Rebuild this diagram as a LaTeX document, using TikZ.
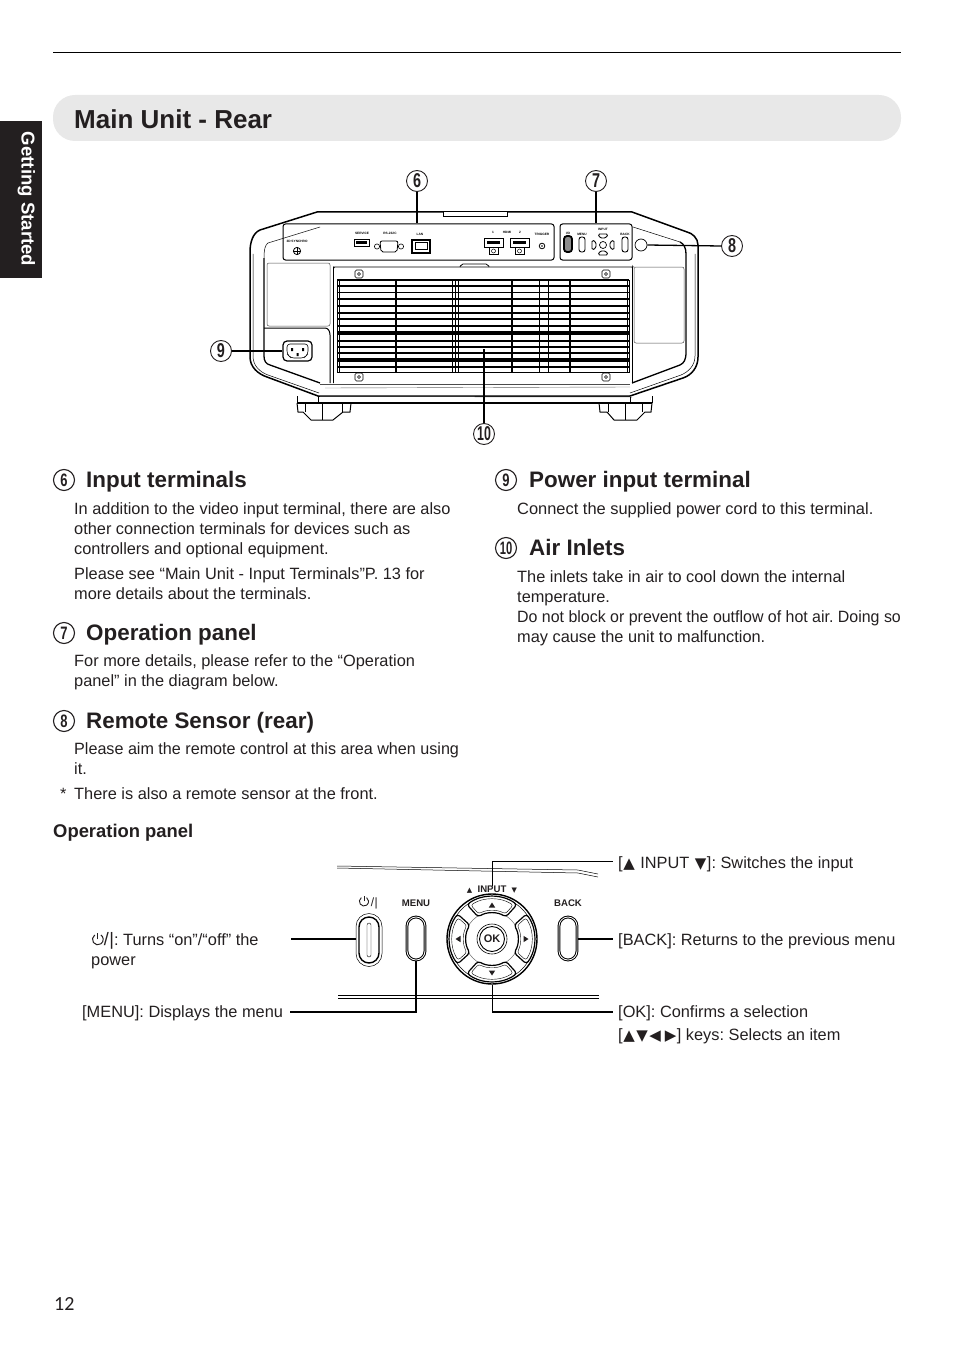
\documentclass[tikz,border=0pt]{standalone}
\usepackage{fontspec}
\setmainfont{Liberation Sans}
\newfontfamily\symfont{DejaVu Sans}
\newfontfamily\pagefont{Carlito}
\frenchspacing

\definecolor{inkblack}{HTML}{231F20}
\definecolor{barfill}{HTML}{E8E8E8}

\newcommand{\narrownum}[1]{\scalebox{.72}[1]{#1}}
\newcommand{\keytri}[1]{{\symfont\fontsize{15}{15}\selectfont #1}}
\newcommand{\pwrsym}{\tikz[x=1pt,y=1pt,baseline=0pt,line width=1pt]{
\draw (125:5.4) ++(0,5.6) arc[start angle=125,end angle=415,radius=5.4];
\draw (0,5.6) -- (0,12.2);}}

\tikzset{
callout/.style={circle, draw=inkblack, line width=.9pt, inner sep=0pt, minimum size=21pt,
  text=inkblack, font={\fontsize{20}{20}\selectfont\bfseries}},
headnum/.style={circle, draw=inkblack, line width=1.1pt, inner sep=0pt, minimum size=21pt,
  text=inkblack, font={\fontsize{18}{18}\selectfont\bfseries}},
headtext/.style={anchor=base west, inner sep=0pt, text=inkblack,
  font={\fontsize{22.4}{22.4}\selectfont\bfseries}},
bodytext/.style={anchor=base west, inner sep=0pt, align=left, text=inkblack,
  font={\fontsize{16.35}{20}\selectfont}},
labeltext/.style={anchor=base west, inner sep=0pt, align=left, text=inkblack,
  font={\fontsize{16.35}{20}\selectfont}},
leader/.style={draw=black, line width=1.3pt},
tinytext/.style={inner sep=0pt, font={\fontsize{3.2}{3.2}\selectfont\bfseries}},
panelbox/.style={draw=black, line width=1pt, rounded corners=2.5pt, inner sep=0pt},
keytext/.style={inner sep=0pt, text=inkblack, font={\fontsize{9.6}{9.6}\selectfont\bfseries}},
softbtn/.style={draw=black, line width=1pt, rounded corners=9pt, double=white,
  double distance=.8pt, inner sep=0pt, minimum width=18pt, minimum height=43pt},
}

\begin{document}
\begin{tikzpicture}[x=1pt,y=-1pt]

\useasboundingbox (0,0) rectangle (954,1348);

\draw [line width=.8pt, black] (53,52.5) -- (901,52.5);

\node [fill=barfill, rounded corners=22pt, minimum width=848pt, minimum height=46pt, inner sep=0pt] (titlebar) at (477,118) {};
\node [anchor=west, inner sep=0pt, text=inkblack, font={\fontsize{26}{26}\selectfont\bfseries}] (title) at (74,119) {Main Unit - Rear};

\fill [inkblack] (0,121) rectangle (42,278);
\node [rotate=-90, inner sep=0pt, text=white, font={\fontsize{18.6}{18.6}\selectfont\bfseries}] (sidetab) at (26.5,199) {Getting Started};

% projector body
\draw [line width=1.5pt] (443,212) -- (317,212) -- (260,230) .. controls (253,233) and (250,242) .. (250,252) -- (250,357)
  .. controls (250,367) and (258,374) .. (267,377) -- (318,396) -- (630,396) -- (683,378)
  .. controls (692,375) and (698,367) .. (698,357) -- (698,245) .. controls (698,238) and (692,233) .. (687,232) -- (632,212) -- (507,212);
\draw [line width=1.5pt] (443,211.5) -- (507,211.5);
\draw [line width=.7pt] (443,212) -- (443,216) -- (507,216) -- (507,212);
\draw [line width=.5pt] (253,254) -- (253,356) .. controls (253,366) and (260,372) .. (268,375) -- (319,393);
\draw [line width=.5pt] (695,254) -- (695,356) .. controls (695,366) and (688,372) .. (681,375) -- (630,393);
\draw [line width=.5pt] (320,227) -- (268,243) .. controls (265,245) and (264,250) .. (264,258);
\draw [line width=.5pt] (633,227) -- (680,242);
\draw [line width=1.3pt] (680,242) .. controls (684,244) and (686,248) .. (686,254) -- (686,352) .. controls (686,360) and (684,363) .. (680,365) -- (632,383);
\draw [line width=1.3pt] (264,258) -- (264,356) .. controls (264,361) and (266,364) .. (270,365) -- (320,383);
\draw [line width=.6pt, black!70] (320,384) -- (630,384);
\draw [line width=.4pt, black!60] (325,388) -- (630,387);
\draw [line width=.5pt, black!70] (320,396.5) -- (632,397);
\draw [line width=1.6pt] (297,403) -- (652,403);
\draw [line width=.8pt] (318,396) -- (318,403) (630,397) -- (630,403);

% feet
\draw [line width=1pt] (297,396) -- (297,403) (652,396) -- (652,403);
\draw [line width=1pt] (297,403) -- (298,412) -- (303,412) -- (311,420) -- (333,420) -- (343,412) -- (350,412) -- (351,403);
\draw [line width=1pt] (599,403) -- (600,412) -- (607,412) -- (614,420) -- (637,420) -- (645,412) -- (651,412) -- (652,403);
\draw [line width=.4pt] (322,403) -- (322,420) (305,403) -- (305,412) (342,403) -- (342,412) (625,403) -- (625,420) (608,403) -- (608,412) (642,403) -- (642,412);

% rear panels
\node [panelbox, minimum width=271pt, minimum height=36pt] (termpanel) at (418.5,242) {};
\node [panelbox, minimum width=72pt, minimum height=36pt] (oppanel) at (596,242) {};
\node [circle, draw=black, line width=.7pt, minimum size=12pt, inner sep=0pt] (sensor) at (641,245) {};

\node [tinytext] (lsync) at (297,241) {3D SYNCHRO};
\draw [line width=.8pt] (297,251) circle (3.6);
\draw [line width=.7pt] (293.4,251) -- (300.6,251) (297,247.4) -- (297,254.6);
\node [tinytext] (lserv) at (362,233) {SERVICE};
\draw [line width=1pt, fill=white] (354,240) rectangle (369,247);
\fill (356,241.5) rectangle (367,244);
\node [tinytext] (lrs) at (390,233) {RS-232C};
\draw [line width=.8pt, rounded corners=2pt] (380,241) -- (398,241) -- (397,252) -- (381,252) -- cycle;
\draw [line width=.6pt] (377,246.5) circle (2.6) (401,246.5) circle (2.6);
\node [tinytext] (llan) at (420,234) {LAN};
\draw [line width=1.2pt] (412,240) rectangle (430,253);
\draw [line width=1pt] (415,243) rectangle (427,250);
\node [tinytext] (lhdmi) at (507,232) {HDMI};
\node [tinytext] (lone) at (493,232) {1};
\node [tinytext] (ltwo) at (520,232) {2};
\foreach \px in {484,510} {
  \draw [line width=1pt] (\px,239) rectangle ++(19,9);
  \fill (\px+3,241.5) rectangle ++(13,3);
  \draw [line width=.5pt] (\px+5,248) -- (\px+5,254) -- (\px+14,254) -- (\px+14,248);
  \draw [line width=.5pt] (\px+9.5,251) circle (2);
}
\node [tinytext] (ltrig) at (542,234) {TRIGGER};
\draw [line width=.8pt] (542,246) circle (2.8);
\fill (542,246) circle (.9);

\node [tinytext] (lpow) at (568,233) {I/O};
\node [tinytext] (lmenu) at (582,234) {MENU};
\node [tinytext] (linput) at (603,229) {INPUT};
\node [tinytext] (lback) at (625,234) {BACK};
\draw [line width=1.8pt, rounded corners=3pt, fill=black!45] (564,236) rectangle (572,252);
\draw [line width=.9pt, rounded corners=2.5pt] (579,237) rectangle (585,252);
\draw [line width=.9pt, rounded corners=2.5pt] (622,237) rectangle (628,252);
\draw [line width=.7pt] (603,245) circle (3.5);
\draw [line width=.9pt, rounded corners=1.5pt] (598,234) -- (608,234) -- (606,238) -- (600,238) -- cycle;
\draw [line width=.9pt, rounded corners=1.5pt] (598,255) -- (608,255) -- (606,251) -- (600,251) -- cycle;
\draw [line width=.9pt, rounded corners=1.5pt] (592,240) -- (592,250) -- (596,248) -- (596,242) -- cycle;
\draw [line width=.9pt, rounded corners=1.5pt] (614,240) -- (614,250) -- (610,248) -- (610,242) -- cycle;

% side covers and inlet
\draw [line width=.5pt, black!70, rounded corners=2pt] (267,263) rectangle (330,326);
\draw [line width=.5pt, black!70, rounded corners=2pt] (634,267) rectangle (684,343);
\draw [line width=1pt] (264,328) -- (325,328) .. controls (328,328) and (330,331) .. (330,335) -- (330,383);
\node [draw=black, line width=1.2pt, rounded corners=4pt, minimum width=29pt, minimum height=20pt, inner sep=0pt] (inlet) at (297.5,351) {};
\draw [line width=.6pt, rounded corners=3pt] (287,344) -- (308,344) -- (308,354) -- (304,358) -- (291,358) -- (287,354) -- cycle;
\fill (291,348) rectangle (293,351) (302,348) rectangle (304,351) (296.5,353) rectangle (298.5,356);

% vent
\draw [line width=.7pt, rounded corners=3pt] (333.5,383) -- (333.5,270) .. controls (333.5,268) and (335,267) .. (337,267) -- (630,267) .. controls (632,267) and (632.5,268) .. (632.5,270) -- (632.5,383);
\draw [line width=1.3pt] (333.5,270) -- (333.5,383);
\draw [line width=.8pt, rounded corners=2pt] (460,267) -- (461,264) -- (488,264) -- (489,267);
\foreach \sy/\sw in {280/1.3,286/1.3,292.5/1.3,299/1.3,306/2,313/1.3,319/1.3,326/1.3,333/3.2,341/1.3,347/1.3,353/1.3,360/3.2,367/1.3,372.5/1.5} {
  \draw [line width=\sw pt] (337,\sy) -- (629,\sy);
}
\foreach \vx/\vw in {337/.8,339.5/1,396/1.2,452/1,455/1,458/1,512/1.8,539/.8,548/.8,570/2,627/.8,629.5/.8} {
  \draw [line width=\vw pt] (\vx,280) -- (\vx,372.5);
}
\foreach \sx/\sy in {359/274,606/274,359/377,606/377} {
  \draw [line width=.6pt, rounded corners=1.5pt] (\sx-4,\sy-4) rectangle (\sx+4,\sy+4);
  \draw [line width=.5pt] (\sx,\sy) circle (1.5);
}
\coordinate (ventmid) at (484,349);

\node [callout] (c6) at (417,181) {\narrownum{6}};
\node [callout] (c7) at (596,181) {\narrownum{7}};
\node [callout] (c8) at (732,246) {\narrownum{8}};
\node [callout] (c9) at (221,351) {\narrownum{9}};
\node [callout] (c10) at (484,434) {\scalebox{.62}[1]{10}};

\draw [leader] (c6.south) -- (c6.south |- termpanel.north);
\draw [leader] (c7.south) -- (c7.south |- oppanel.north);
\draw [leader] (sensor.east) -- (c8.west);
\draw [leader] (c9.east) -- (inlet.west);
\draw [leader] (ventmid) -- (c10.north);

% left column
\node [headnum] (n6) at (64,480) {\narrownum{6}};
\node [headtext] (h6) at (86,487.5) {Input terminals};
\node [bodytext] (t6a) at (74,554) {In addition to the video input terminal, there are also\\other connection terminals for devices such as\\controllers and optional equipment.};
\node [bodytext] (t6b) at (74,599) {Please see “Main Unit - Input Terminals”P. 13 for\\more details about the terminals.};

\node [headnum] (n7) at (64,633) {\narrownum{7}};
\node [headtext] (h7) at (86,640.5) {Operation panel};
\node [bodytext] (t7) at (74,686) {For more details, please refer to the “Operation\\panel” in the diagram below.};

\node [headnum] (n8) at (64,721) {\narrownum{8}};
\node [headtext] (h8) at (86,728.5) {Remote Sensor (rear)};
\node [bodytext] (t8) at (74,774) {\scalebox{.987}[1]{Please aim the remote control at this area when using}\\it.};
\node [bodytext] (t8star) at (60,799) {*};
\node [bodytext] (t8b) at (74,799) {There is also a remote sensor at the front.};

% right column
\node [headnum] (n9) at (506,480) {\narrownum{9}};
\node [headtext] (h9) at (529,487.5) {Power input terminal};
\node [bodytext] (t9) at (517,514) {\scalebox{1.005}[1]{Connect the supplied power cord to this terminal.}};

\node [headnum] (n10) at (506,548) {\scalebox{.62}[1]{10}};
\node [headtext] (h10) at (529,555.5) {Air Inlets};
\node [bodytext] (t10) at (517,642) {The inlets take in air to cool down the internal\\temperature.\\\scalebox{.975}[1]{Do not block or prevent the outflow of hot air. Doing so}\\may cause the unit to malfunction.};

\node [anchor=base west, inner sep=0pt, text=inkblack, font={\fontsize{18.4}{18.4}\selectfont\bfseries}] (opsub) at (53,837) {Operation panel};

% operation panel
\draw [line width=.5pt] (337,866) -- (578,870) -- (598,874);
\draw [line width=.5pt] (337,868) -- (578,873) -- (598,877);
\draw [line width=.5pt] (338,995) -- (599,995) (338,998) -- (599,998);

\node [keytext] (lblpow) at (368,902) {\tikz[x=1pt,y=1pt,baseline=0pt,line width=.9pt]{\draw (125:4.6) ++(0,4.8) arc[start angle=125,end angle=415,radius=4.6];\draw (0,4.8) -- (0,10.5);}\,{\fontsize{12}{12}\selectfont\mdseries/\hspace{.5pt}|}};
\node [keytext] (lblmenu) at (416,903) {MENU};
\node [keytext] (lblback) at (568,903) {BACK};
\node [keytext] (lblinput) at (492,890) {{\symfont\fontsize{7}{7}\selectfont ▲}\ \ INPUT\ \ {\symfont\fontsize{7}{7}\selectfont ▼}};

\node [draw=black, line width=.5pt, rounded corners=13pt, minimum width=26pt, minimum height=53pt, inner sep=0pt] (powbtn) at (369,940) {};
\node [draw=black, line width=1.4pt, rounded corners=10pt, minimum width=20pt, minimum height=46pt, inner sep=0pt] (powmid) at (369,940) {};
\node [draw=black, line width=.4pt, rounded corners=2pt, minimum width=4pt, minimum height=34pt, inner sep=0pt] (powcore) at (369,940) {};
\node [softbtn] (menubtn) at (416,938.5) {};
\node [softbtn] (backbtn) at (568,938.5) {};

\node [circle, draw=black, line width=1.4pt, minimum size=90pt, inner sep=0pt] (pad) at (492,939) {};
\node [circle, draw=black, line width=.5pt, minimum size=85pt, inner sep=0pt] (padring) at (492,939) {};
\node [circle, draw=black!70, line width=.4pt, minimum size=54pt, inner sep=0pt] (padin) at (492,939) {};
\node [circle, draw=black, line width=.6pt, minimum size=30pt, inner sep=0pt] (okouter) at (492,939) {};
\node [circle, draw=black, line width=.9pt, minimum size=25pt, inner sep=0pt, text=inkblack, font={\fontsize{11}{11}\selectfont\bfseries}] (okbtn) at (492,939) {OK};
\foreach \ka in {0,90,180,270} {
  \begin{scope}[shift={(492,939)}, rotate=\ka]
  \draw [line width=1.2pt, fill=white, rounded corners=3pt] (234:42.5) arc[start angle=234,end angle=306,radius=42.5] -- (302:26) arc[start angle=302,end angle=238,radius=26] -- cycle;
  \draw [line width=.4pt, rounded corners=2.5pt] (238:40) arc[start angle=238,end angle=302,radius=40] -- (298:28.5) arc[start angle=298,end angle=242,radius=28.5] -- cycle;
  \fill [inkblack] (-3.2,-31.5) -- (3.2,-31.5) -- (0,-36.5) -- cycle;
  \end{scope}
}

\coordinate (jinput) at (492.5,861.5);
\coordinate (jok) at (492.5,1012);
\coordinate (jmenu) at (416,1012);
\coordinate (einput) at (613,861.5);
\coordinate (eback) at (613,939);
\coordinate (eok) at (613,1012);
\coordinate (epow) at (291,939);
\coordinate (emenu) at (290,1012);
\draw [leader, line width=1pt] (lblinput.north -| jinput) -- (jinput) -- (einput);
\draw [leader] (backbtn.east |- eback) -- (eback);
\draw [leader] (pad.south -| jok) -- (jok) -- (eok);
\draw [leader] (epow) -- (powbtn.west |- epow);
\draw [leader] (emenu) -- (jmenu) -- (menubtn.south);

\node [labeltext] (lab1) at (618,868) {[\hspace{.5pt}\keytri{▲}\hspace{1pt} INPUT \hspace{1pt}\keytri{▼}\hspace{.5pt}]: Switches the input};
\node [labeltext] (lab2) at (618,945) {[BACK]: Returns to the previous menu};
\node [labeltext] (lab3) at (618,1017) {[OK]: Confirms a selection};
\node [labeltext] (lab4) at (618,1040) {[\hspace{.5pt}\keytri{▲}\hspace{1.5pt}\keytri{▼}\hspace{1.5pt}\keytri{◀}\hspace{4pt}\keytri{▶}\hspace{.5pt}] keys: Selects an item};
\node [labeltext] (lab5) at (91,965) {\pwrsym{\fontsize{18}{18}\selectfont/\hspace{.5pt}|}: Turns “on”/“off” the\\power};
\node [labeltext] (lab6) at (82,1017) {[MENU]: Displays the menu};

\node [anchor=base west, inner sep=0pt, text=inkblack, font={\pagefont\fontsize{20}{20}\selectfont}] (pagenum) at (54,1310) {12};

\end{tikzpicture}
\end{document}
